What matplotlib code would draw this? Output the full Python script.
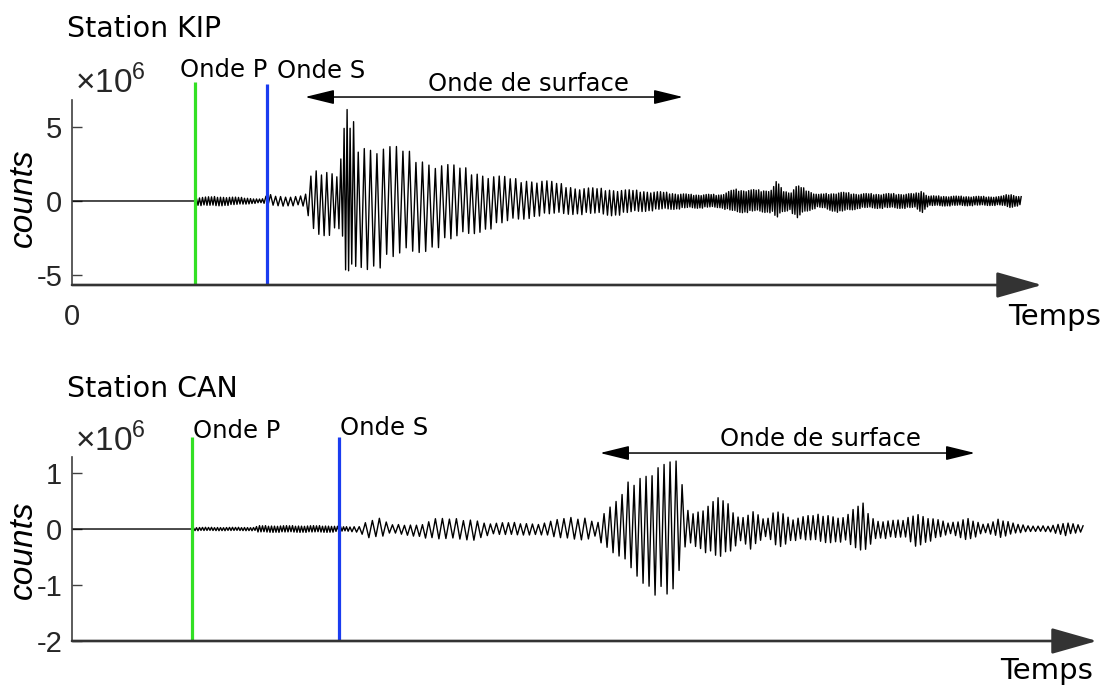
import numpy as np
import matplotlib.pyplot as plt

plt.rcParams['font.family'] = ['DejaVu Sans']
plt.rcParams['mathtext.fontset'] = 'custom'
plt.rcParams['mathtext.rm'] = 'Liberation Sans'

W, H = 1110, 687

# --- station KIP : envelope of the record (x1e6 counts), time in s ---
kip_t = [12.3, 12.5, 14.3, 16.8, 19.0, 19.6, 21.3, 23.0, 23.5, 23.9, 24.6, 25.8,
         26.6, 27.1, 27.4, 27.7, 28.1, 28.6, 30.3, 32.8, 35.3, 38.3, 40.8, 44.3,
         46.8, 50.3, 54.3, 57.3, 59.3, 61.8, 64.8, 66.3, 68.8, 70.0, 70.5, 71.0,
         71.8, 72.5, 73.3, 74.6, 76.8, 78.8, 82.8, 84.3, 85.0, 85.6, 92.8, 93.8, 94.8]
kip_up = [0.0, 0.25, 0.3, 0.25, 0.12, 0.45, 0.3, 0.35, 0.5, 1.8, 2.1, 2.2,
          2.0, 4.0, 6.8, 5.0, 5.5, 4.0, 4.0, 3.6, 2.9, 2.4, 2.0, 1.5,
          1.5, 0.95, 0.8, 0.7, 0.6, 0.45, 0.45, 0.8, 0.75, 0.8, 1.4, 0.8,
          0.6, 1.05, 0.85, 0.45, 0.6, 0.5, 0.5, 0.5, 0.75, 0.35, 0.3, 0.5, 0.3]
kip_dn = [0.0, 0.3, 0.35, 0.25, 0.12, 0.3, 0.35, 0.3, 0.7, 2.2, 2.5, 2.3,
          1.6, 3.0, 5.6, 5.5, 5.2, 4.6, 4.6, 4.1, 3.4, 2.8, 2.1, 1.4,
          1.0, 0.9, 1.0, 0.7, 0.6, 0.5, 0.45, 0.8, 0.75, 0.8, 1.3, 0.8,
          0.6, 1.3, 0.75, 0.45, 0.8, 0.5, 0.5, 0.5, 0.8, 0.35, 0.3, 0.45, 0.3]
kip_period = [0.3, 0.3, 0.3, 0.3, 0.3, 0.5, 0.5, 0.5, 0.53, 0.53, 0.53, 0.53,
              0.4, 0.3, 0.3, 0.3, 0.4, 0.6, 0.65, 0.65, 0.65, 0.6, 0.55, 0.55,
              0.5, 0.45, 0.4, 0.35, 0.3, 0.25, 0.25, 0.25, 0.25, 0.25, 0.25, 0.25,
              0.25, 0.25, 0.25, 0.25, 0.25, 0.25, 0.25, 0.25, 0.25, 0.25, 0.25, 0.25, 0.25]
kip_p, kip_s = 12.3, 19.5
kip_surface = (23.3, 61.1)

# --- station CAN ---
can_t = [12.0, 12.2, 18.3, 18.6, 25.8, 27.3, 28.8, 29.3, 30.8, 31.8, 34.8, 36.3,
         40.3, 41.8, 43.8, 46.8, 49.3, 51.3, 52.5, 53.3, 54.6, 55.8, 57.0, 58.3,
         59.6, 60.5, 61.1, 61.8, 63.6, 64.8, 65.8, 66.8, 68.0, 69.3, 70.6, 72.0,
         75.3, 77.3, 79.0, 80.3, 83.3, 84.3, 85.8, 87.8, 89.6, 91.3, 92.8, 94.0,
         95.8, 97.8, 99.3, 101.0]
can_up = [0.0, 0.03, 0.03, 0.06, 0.06, 0.04, 0.05, 0.14, 0.2, 0.08, 0.08, 0.19,
          0.18, 0.1, 0.12, 0.1, 0.2, 0.22, 0.12, 0.33, 0.52, 0.9, 1.05, 1.23,
          1.17, 1.29, 0.7, 0.28, 0.45, 0.58, 0.42, 0.2, 0.36, 0.15, 0.37, 0.2,
          0.28, 0.22, 0.49, 0.16, 0.16, 0.31, 0.22, 0.1, 0.22, 0.07, 0.19, 0.13,
          0.05, 0.06, 0.13, 0.06]
can_dn = [0.0, 0.03, 0.03, 0.06, 0.06, 0.04, 0.06, 0.15, 0.17, 0.08, 0.14, 0.2,
          0.2, 0.1, 0.12, 0.1, 0.2, 0.2, 0.12, 0.37, 0.55, 0.75, 0.95, 1.18,
          1.33, 1.2, 0.4, 0.25, 0.45, 0.58, 0.45, 0.2, 0.38, 0.15, 0.35, 0.2,
          0.25, 0.23, 0.49, 0.17, 0.17, 0.32, 0.22, 0.1, 0.2, 0.07, 0.17, 0.08,
          0.05, 0.05, 0.12, 0.06]
can_period = [0.3, 0.3, 0.3, 0.3, 0.3, 0.3, 0.6, 0.7, 0.7, 0.6, 0.6, 0.7,
              0.7, 0.6, 0.6, 0.6, 0.7, 0.7, 0.6, 0.6, 0.6, 0.6, 0.6, 0.6,
              0.6, 0.6, 0.6, 0.5, 0.5, 0.5, 0.5, 0.5, 0.5, 0.5, 0.5, 0.5,
              0.5, 0.5, 0.5, 0.5, 0.5, 0.5, 0.5, 0.5, 0.5, 0.5, 0.5, 0.5,
              0.5, 0.5, 0.5, 0.5]
can_p, can_s = 12.0, 26.7
can_surface = (52.8, 90.3)

peak_scale = [1.0, 0.85, 0.95, 0.8, 1.0, 0.9, 0.82, 0.97, 0.88]


def build_trace(t, up, dn, per):
    # flat before the first arrival, then swing between the two envelopes
    ts, ys = [0.0, t[0]], [0.0, 0.0]
    x, k = t[0], 0
    while x < t[-1]:
        x += np.interp(x, t, per) / 2
        k += 1
        f = peak_scale[k % len(peak_scale)]
        if k % 2:
            ys.append(f * np.interp(x, t, up))
        else:
            ys.append(-f * np.interp(x, t, dn))
        ts.append(x)
    return ts, ys


fig = plt.figure(figsize=(W / 100, H / 100), dpi=100)

panels = [
    dict(name='Station KIP', t=kip_t, up=kip_up, dn=kip_dn, per=kip_period,
         p=kip_p, s=kip_s, surf=kip_surface, ylim=(-5.64, 6.78), yticks=[-5, 0, 5],
         box=(100, 285), tip=97.0, line_top=(7.99, 7.85), surf_y=6.98,
         title_y=37, off_y=93, p_lab=(180, 77), s_lab=(277, 78), surf_lab=(428, 91),
         temps=(1008, 325), counts_y=198, zero=True),
    dict(name='Station CAN', t=can_t, up=can_up, dn=can_dn, per=can_period,
         p=can_p, s=can_s, surf=can_surface, ylim=(-2.0, 1.286), yticks=[-2, -1, 0, 1],
         box=(457, 641), tip=102.5, line_top=(1.64, 1.64), surf_y=1.357,
         title_y=397, off_y=451, p_lab=(193, 438), s_lab=(340, 435), surf_lab=(720, 446),
         temps=(1000, 679), counts_y=550, zero=False),
]

for pn in panels:
    top, bot = pn['box']
    ax = fig.add_axes([72 / W, 1 - bot / H, (1100 - 72) / W, (bot - top) / H])
    ax.set_xlim(0, 102.8)
    ax.set_ylim(*pn['ylim'])
    for sp in ['top', 'right', 'bottom']:
        ax.spines[sp].set_visible(False)
    ax.spines['left'].set_color('#404040')
    ax.spines['left'].set_linewidth(1.2)

    ts, ys = build_trace(pn['t'], pn['up'], pn['dn'], pn['per'])
    ax.plot(ts, ys, color='black', lw=1.0, zorder=2)

    ymin = pn['ylim'][0]
    ax.plot([pn['p'], pn['p']], [ymin, pn['line_top'][0]], color='#33e024', lw=2.3,
            solid_capstyle='butt', clip_on=False, zorder=3)
    ax.plot([pn['s'], pn['s']], [ymin, pn['line_top'][1]], color='#1a3cf0', lw=2.3,
            solid_capstyle='butt', clip_on=False, zorder=3)

    # time axis arrow
    ax.annotate('', xy=(pn['tip'], ymin), xytext=(0, ymin), annotation_clip=False,
                arrowprops=dict(arrowstyle='-|>,head_length=0.95,head_width=0.27',
                                color='#333333', lw=1.9, shrinkA=0, shrinkB=0,
                                mutation_scale=30))
    # surface wave span
    ax.annotate('', xy=(pn['surf'][1], pn['surf_y']), xytext=(pn['surf'][0], pn['surf_y']),
                annotation_clip=False,
                arrowprops=dict(arrowstyle='<|-|>,head_length=0.9,head_width=0.22',
                                color='black', lw=1.1, shrinkA=0, shrinkB=0,
                                mutation_scale=20))

    ax.set_yticks(pn['yticks'])
    ax.set_yticklabels([str(v) for v in pn['yticks']])
    ax.tick_params(axis='y', direction='in', length=7, width=1, color='#404040',
                   labelcolor='#262626', labelsize=21, pad=7)
    if pn['zero']:
        ax.set_xticks([0])
        ax.set_xticklabels(['0'])
        ax.tick_params(axis='x', length=0, labelsize=21, labelcolor='#262626', pad=13)
    else:
        ax.set_xticks([])
    for lab in ax.get_yticklabels() + ax.get_xticklabels():
        lab.set_fontfamily('Liberation Sans')

    fig.text(75 / W, 1 - pn['off_y'] / H, r'$\times10^{6}$', fontsize=24,
             color='#262626', va='baseline', ha='left')
    fig.text(67 / W, 1 - pn['title_y'] / H, pn['name'], fontsize=20.5, va='baseline')
    fig.text(pn['p_lab'][0] / W, 1 - pn['p_lab'][1] / H, 'Onde P', fontsize=17.5,
             va='baseline')
    fig.text(pn['s_lab'][0] / W, 1 - pn['s_lab'][1] / H, 'Onde S', fontsize=17.5,
             va='baseline')
    fig.text(pn['surf_lab'][0] / W, 1 - pn['surf_lab'][1] / H, 'Onde de surface',
             fontsize=17.5, va='baseline')
    fig.text(pn['temps'][0] / W, 1 - pn['temps'][1] / H, 'Temps', fontsize=21,
             va='baseline')
    fig.text(23 / W, 1 - pn['counts_y'] / H, 'counts', fontsize=24, style='italic',
             family='Liberation Sans', rotation=90, ha='center', va='center')

plt.savefig('out.png', dpi=100)
